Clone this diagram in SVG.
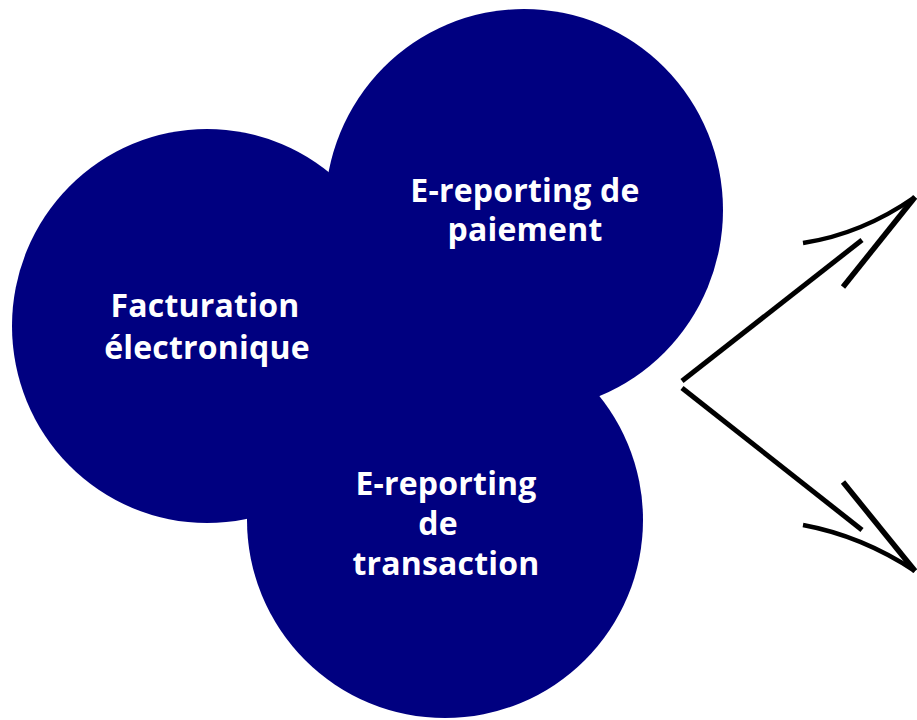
<svg xmlns="http://www.w3.org/2000/svg" width="917" height="720" viewBox="0 0 917 720">
<style>
.bubble{fill:#000080}
.lbl{font-family:"Open Sans","Liberation Sans",sans-serif;font-weight:700;font-size:32px;fill:#ffffff;text-anchor:middle;letter-spacing:0.2px}
.arr{fill:none;stroke:#000000;stroke-linecap:butt}
</style>
<rect width="917" height="720" fill="#ffffff"/>
<g id="node-facturation">
<ellipse class="bubble" cx="207" cy="326" rx="195" ry="197"/>
</g>
<g id="node-paiement">
<ellipse class="bubble" cx="524" cy="210" rx="199" ry="201"/>
</g>
<g id="node-transaction">
<ellipse class="bubble" cx="445" cy="520" rx="198" ry="198"/>
</g>
<g id="labels">
<text class="lbl" x="205" y="317">Facturation</text>
<text class="lbl" x="207" y="359">électronique</text>
<text class="lbl" x="525" y="202">E-reporting de</text>
<text class="lbl" x="525" y="241">paiement</text>
<text class="lbl" x="446" y="495">E-reporting</text>
<text class="lbl" x="438" y="535">de</text>
<text class="lbl" x="446" y="575">transaction</text>
</g>
<g id="connectors">
<line class="arr" x1="682" y1="381" x2="862" y2="240" stroke-width="5"/>
<path class="arr" d="M803,243 Q862,234 915,197" stroke-width="4.5"/>
<line class="arr" x1="915" y1="197" x2="843" y2="287" stroke-width="5.5"/>
<line class="arr" x1="682" y1="388" x2="862" y2="530" stroke-width="5"/>
<path class="arr" d="M803,525 Q862,536 915,571" stroke-width="4.5"/>
<line class="arr" x1="915" y1="571" x2="843" y2="482" stroke-width="5.5"/>
</g>
</svg>
